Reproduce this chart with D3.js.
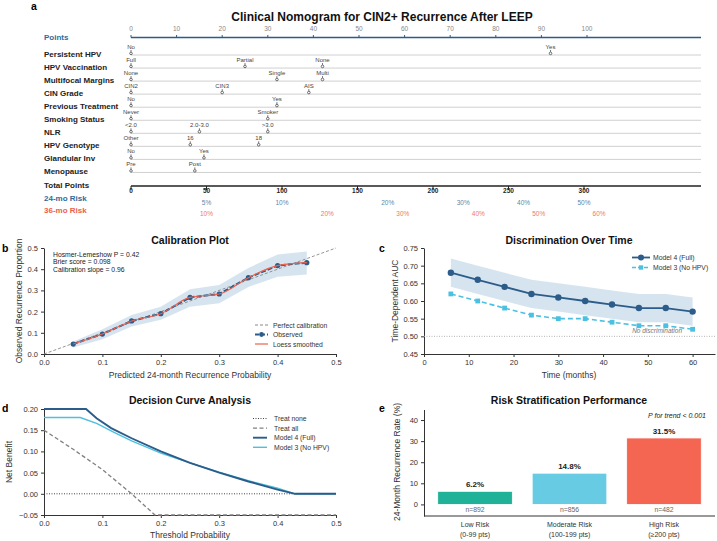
<!doctype html>
<meta charset="utf-8">
<title>CIN2+ nomogram</title>
<script src="https://cdn.jsdelivr.net/npm/d3@7/dist/d3.min.js"></script>
<style>
  body { margin: 0; background: #fff; }
  text { font-family: "Liberation Sans", Arial, sans-serif; }
</style>
<body>
<script>
// ---- data ----
var nomoVars = ["Persistent HPV", "HPV Vaccination", "Multifocal Margins", "CIN Grade", "Previous Treatment",
  "Smoking Status", "NLR", "HPV Genotype", "Glandular Inv", "Menopause"];
var nomoLevels = [["No", "Yes"], ["Full", "Partial", "None"], ["None", "Single", "Multi"], ["CIN2", "CIN3", "AIS"],
  ["No", "Yes"], ["Never", "Smoker"], ["<2.0", "2.0-3.0", ">3.0"], ["Other", "16", "18"], ["No", "Yes"], ["Pre", "Post"]];
var nomoPoints = [[0, 92], [0, 25, 42], [0, 32, 42], [0, 20, 39], [0, 32], [0, 30], [0, 15, 30], [0, 13, 28], [0, 16], [0, 14]];
var pointTicks = [0, 10, 20, 30, 40, 50, 60, 70, 80, 90, 100];
var totalTicks = [0, 50, 100, 150, 200, 250, 300];
var risk24Pts = [50, 100, 170, 220, 260, 300];
var risk24Lab = ["5%", "10%", "20%", "30%", "40%", "50%"];
var risk36Pts = [50, 130, 180, 230, 270, 310];
var risk36Lab = ["10%", "20%", "30%", "40%", "50%", "60%"];

var calPred = [0.05, 0.10, 0.15, 0.20, 0.25, 0.30, 0.35, 0.40, 0.45];
var calObs = [0.047, 0.094, 0.156, 0.19, 0.267, 0.283, 0.36, 0.417, 0.431];
var calLow = [0.031, 0.07, 0.13, 0.161, 0.223, 0.239, 0.316, 0.364, 0.375];
var calHigh = [0.059, 0.117, 0.184, 0.223, 0.305, 0.325, 0.406, 0.469, 0.484];

var months = [6, 12, 18, 24, 30, 36, 42, 48, 54, 60];
var auc4 = [0.68, 0.66, 0.64, 0.62, 0.61, 0.60, 0.59, 0.58, 0.58, 0.57];
var auc4Low = [0.64, 0.62, 0.60, 0.58, 0.57, 0.56, 0.55, 0.54, 0.54, 0.53];
var auc4High = [0.72, 0.70, 0.68, 0.66, 0.65, 0.64, 0.63, 0.62, 0.62, 0.61];
var auc3 = [0.62, 0.60, 0.58, 0.56, 0.55, 0.55, 0.54, 0.53, 0.53, 0.52];

var dcaAllT = [0, 0.05, 0.10, 0.15, 0.19, 0.5];
var dcaAll = [0.15, 0.105, 0.057, 0.0, -0.05, -0.05];
var dca4T = [0, 0.072, 0.09, 0.115, 0.15, 0.2, 0.25, 0.3, 0.35, 0.4, 0.43, 0.5];
var dca4 = [0.20, 0.20, 0.178, 0.155, 0.131, 0.10, 0.073, 0.05, 0.029, 0.010, 0, 0];
var dca3T = [0, 0.062, 0.09, 0.12, 0.15, 0.2, 0.25, 0.3, 0.35, 0.4, 0.43, 0.5];
var dca3 = [0.18, 0.18, 0.166, 0.145, 0.125, 0.096, 0.073, 0.051, 0.031, 0.013, 0, 0];

var riskGroups = [["Low Risk", "(0-99 pts)"], ["Moderate Risk", "(100-199 pts)"], ["High Risk", "(\u2265200 pts)"]];
var riskRates = [6.2, 14.8, 31.5];
var riskN = [892, 856, 482];

// ---- colours ----
var dark = "#2b5c8a", light = "#4cc0e0", coral = "#f0624d";
var barColors = ["#20b298", "#67cbe3", "#f46552"];

var svg = d3.select("body").append("svg").attr("width", 717).attr("height", 541);

function styleAxis(g) {
  g.selectAll("text").attr("font-size", 7.5).attr("fill", "#333");
  g.selectAll("line, path").attr("stroke", "#333");
}
function title(x, y, t) {
  svg.append("text").attr("x", x).attr("y", y).attr("text-anchor", "middle")
    .attr("font-size", 10.5).attr("font-weight", "bold").attr("fill", "#111").text(t);
}
function letter(x, y, t) {
  svg.append("text").attr("x", x).attr("y", y).attr("font-size", 10.5).attr("font-weight", "bold").text(t);
}
function ylabel(x, y, t) {
  svg.append("text").attr("transform", "translate(" + x + "," + y + ") rotate(-90)")
    .attr("text-anchor", "middle").attr("font-size", 8.5).attr("fill", "#333").text(t);
}
function xlabel(x, y, t) {
  svg.append("text").attr("x", x).attr("y", y).attr("text-anchor", "middle")
    .attr("font-size", 8.5).attr("fill", "#333").text(t);
}

// ================= a: nomogram =================
letter(31, 10, "a");
svg.append("text").attr("x", 382).attr("y", 21).attr("text-anchor", "middle")
  .attr("font-size", 12).attr("font-weight", "bold").attr("fill", "#111")
  .text("Clinical Nomogram for CIN2+ Recurrence After LEEP");

var pts = d3.scaleLinear().domain([0, 100]).range([131, 587]);
var tot = d3.scaleLinear().domain([0, 300]).range([131, 584]);
var lineEnd = 701;

// points axis
svg.append("text").attr("x", 44).attr("y", 40).attr("font-size", 8).attr("font-weight", "bold")
  .attr("fill", "#2f6b9a").text("Points");
svg.append("line").attr("x1", 131).attr("x2", lineEnd).attr("y1", 37.5).attr("y2", 37.5)
  .attr("stroke", dark).attr("stroke-width", 1.3);
svg.selectAll(".ptick").data(pointTicks).enter().append("line")
  .attr("x1", function(d) { return pts(d); }).attr("x2", function(d) { return pts(d); })
  .attr("y1", 35).attr("y2", 37.5).attr("stroke", dark);
svg.selectAll(".plab").data(pointTicks).enter().append("text")
  .attr("x", function(d) { return pts(d); }).attr("y", 31).attr("text-anchor", "middle")
  .attr("font-size", 6.5).attr("fill", "#888").text(function(d) { return d; });

// variable rows
nomoVars.forEach(function(v, i) {
  var ly = 55 + i * 13.05;
  svg.append("text").attr("x", 44).attr("y", ly + 2).attr("font-size", 8).attr("font-weight", "bold")
    .attr("fill", "#222").text(v);
  svg.append("line").attr("x1", 131).attr("x2", lineEnd).attr("y1", ly).attr("y2", ly)
    .attr("stroke", "#d0d0d0").attr("stroke-width", 1);
  nomoPoints[i].forEach(function(p, j) {
    var x = pts(p);
    svg.append("line").attr("x1", x).attr("x2", x).attr("y1", ly - 5).attr("y2", ly - 3.2)
      .attr("stroke", "#333").attr("stroke-width", 0.7);
    svg.append("circle").attr("cx", x).attr("cy", ly - 1.6).attr("r", 1.3)
      .attr("fill", "#fff").attr("stroke", "#333").attr("stroke-width", 0.7);
    svg.append("text").attr("x", x).attr("y", ly - 6).attr("text-anchor", "middle")
      .attr("font-size", 6).attr("fill", "#444").text(nomoLevels[i][j]);
  });
});

// total points
svg.append("text").attr("x", 44).attr("y", 188).attr("font-size", 8).attr("font-weight", "bold")
  .attr("fill", "#222").text("Total Points");
svg.append("line").attr("x1", 131).attr("x2", lineEnd).attr("y1", 186).attr("y2", 186)
  .attr("stroke", "#222").attr("stroke-width", 1.4);
svg.selectAll(".ttick").data(totalTicks).enter().append("line")
  .attr("x1", function(d) { return tot(d); }).attr("x2", function(d) { return tot(d); })
  .attr("y1", 186).attr("y2", 190).attr("stroke", "#222");
svg.selectAll(".tlab").data(totalTicks).enter().append("text")
  .attr("x", function(d) { return tot(d); }).attr("y", 193).attr("text-anchor", "middle")
  .attr("font-size", 6.5).attr("font-weight", "bold").attr("fill", "#222").text(function(d) { return d; });

svg.append("text").attr("x", 44).attr("y", 201).attr("font-size", 8).attr("font-weight", "bold")
  .attr("fill", "#2f6b9a").text("24-mo Risk");
svg.append("text").attr("x", 44).attr("y", 212.5).attr("font-size", 8).attr("font-weight", "bold")
  .attr("fill", "#ec5f4b").text("36-mo Risk");
svg.selectAll(".r24").data(risk24Pts).enter().append("text")
  .attr("x", function(d) { return tot(d); }).attr("y", 204.5).attr("text-anchor", "middle")
  .attr("font-size", 6.5).attr("fill", "#5c87aa").text(function(d, i) { return risk24Lab[i]; });
svg.selectAll(".r36").data(risk36Pts).enter().append("text")
  .attr("x", function(d) { return tot(d); }).attr("y", 216).attr("text-anchor", "middle")
  .attr("font-size", 6.5).attr("fill", "#f07766").text(function(d, i) { return risk36Lab[i]; });

// ================= b: calibration =================
letter(2, 252, "b");
title(190, 244, "Calibration Plot");
var bx = d3.scaleLinear().domain([0, 0.5]).range([44, 336]);
var by = d3.scaleLinear().domain([0, 0.5]).range([354, 248]);
svg.append("g").attr("transform", "translate(0,354)")
  .call(d3.axisBottom(bx).tickValues([0, 0.1, 0.2, 0.3, 0.4, 0.5]).tickFormat(d3.format(".1f")).tickSize(3).tickSizeOuter(0))
  .call(styleAxis);
svg.append("g").attr("transform", "translate(44,0)")
  .call(d3.axisLeft(by).tickValues([0, 0.1, 0.2, 0.3, 0.4, 0.5]).tickFormat(d3.format(".1f")).tickSize(3).tickSizeOuter(0))
  .call(styleAxis);
xlabel(190, 378, "Predicted 24-month Recurrence Probability");
ylabel(22, 301, "Observed Recurrence Proportion");

var calIdx = d3.range(calPred.length);
svg.append("path").datum(calIdx)
  .attr("d", d3.area().x(function(i) { return bx(calPred[i]); })
    .y0(function(i) { return by(calLow[i]); }).y1(function(i) { return by(calHigh[i]); }))
  .attr("fill", "#4682b4").attr("opacity", 0.22);
svg.append("line").attr("x1", bx(0)).attr("y1", by(0)).attr("x2", bx(0.5)).attr("y2", by(0.5))
  .attr("stroke", "#888").attr("stroke-width", 0.9).attr("stroke-dasharray", "3,2");
svg.append("path").datum(calIdx)
  .attr("d", d3.line().x(function(i) { return bx(calPred[i]); }).y(function(i) { return by(calObs[i]); }))
  .attr("fill", "none").attr("stroke", dark).attr("stroke-width", 2).attr("stroke-dasharray", "5,2");
svg.selectAll(".calpt").data(calIdx).enter().append("circle")
  .attr("cx", function(i) { return bx(calPred[i]); }).attr("cy", function(i) { return by(calObs[i]); })
  .attr("r", 2.6).attr("fill", dark);
svg.append("path").datum(calIdx)
  .attr("d", d3.line().curve(d3.curveMonotoneX).x(function(i) { return bx(calPred[i]); }).y(function(i) { return by(calObs[i]); }))
  .attr("fill", "none").attr("stroke", coral).attr("stroke-width", 1.1);

["Hosmer-Lemeshow P = 0.42", "Brier score = 0.098", "Calibration slope = 0.96"].forEach(function(t, i) {
  svg.append("text").attr("x", 53).attr("y", 256.5 + i * 7.6).attr("font-size", 6.8).attr("fill", "#222").text(t);
});
// legend b
var bl = svg.append("g");
bl.append("line").attr("x1", 255).attr("x2", 268).attr("y1", 325).attr("y2", 325)
  .attr("stroke", "#888").attr("stroke-dasharray", "3,2");
bl.append("line").attr("x1", 255).attr("x2", 268).attr("y1", 334.5).attr("y2", 334.5)
  .attr("stroke", dark).attr("stroke-width", 2).attr("stroke-dasharray", "4,2");
bl.append("circle").attr("cx", 261.5).attr("cy", 334.5).attr("r", 2.4).attr("fill", dark);
bl.append("line").attr("x1", 255).attr("x2", 268).attr("y1", 344).attr("y2", 344)
  .attr("stroke", coral).attr("stroke-width", 1.2);
["Perfect calibration", "Observed", "Loess smoothed"].forEach(function(t, i) {
  bl.append("text").attr("x", 273).attr("y", 327.5 + i * 9.5).attr("font-size", 6.8).attr("fill", "#333").text(t);
});

// ================= c: discrimination =================
letter(379, 252, "c");
title(569, 244, "Discrimination Over Time");
var cx = d3.scaleLinear().domain([0, 65]).range([424, 715]);
var cy = d3.scaleLinear().domain([0.45, 0.75]).range([354, 248]);
svg.append("g").attr("transform", "translate(0,354)")
  .call(d3.axisBottom(cx).tickValues([0, 10, 20, 30, 40, 50, 60]).tickSize(3).tickSizeOuter(0))
  .call(styleAxis);
svg.append("g").attr("transform", "translate(424,0)")
  .call(d3.axisLeft(cy).tickValues([0.45, 0.5, 0.55, 0.6, 0.65, 0.7, 0.75]).tickFormat(d3.format(".2f")).tickSize(3).tickSizeOuter(0))
  .call(styleAxis);
xlabel(569, 378, "Time (months)");
ylabel(398, 301, "Time-Dependent AUC");

var mIdx = d3.range(months.length);
svg.append("path").datum(mIdx)
  .attr("d", d3.area().x(function(i) { return cx(months[i]); })
    .y0(function(i) { return cy(auc4Low[i]); }).y1(function(i) { return cy(auc4High[i]); }))
  .attr("fill", "#4682b4").attr("opacity", 0.22);
svg.append("line").attr("x1", 424).attr("x2", 715).attr("y1", cy(0.5)).attr("y2", cy(0.5))
  .attr("stroke", "#aaa").attr("stroke-width", 0.9).attr("stroke-dasharray", "1,1.5");
svg.append("text").attr("x", 682).attr("y", 333).attr("text-anchor", "end").attr("font-size", 6.5)
  .attr("font-style", "italic").attr("fill", "#777").text("No discrimination");
svg.append("path").datum(mIdx)
  .attr("d", d3.line().x(function(i) { return cx(months[i]); }).y(function(i) { return cy(auc3[i]); }))
  .attr("fill", "none").attr("stroke", light).attr("stroke-width", 1.6).attr("stroke-dasharray", "5,3");
svg.selectAll(".m3").data(mIdx).enter().append("rect")
  .attr("x", function(i) { return cx(months[i]) - 2.4; }).attr("y", function(i) { return cy(auc3[i]) - 2.4; })
  .attr("width", 4.8).attr("height", 4.8).attr("fill", light);
svg.append("path").datum(mIdx)
  .attr("d", d3.line().x(function(i) { return cx(months[i]); }).y(function(i) { return cy(auc4[i]); }))
  .attr("fill", "none").attr("stroke", dark).attr("stroke-width", 1.8);
svg.selectAll(".m4").data(mIdx).enter().append("circle")
  .attr("cx", function(i) { return cx(months[i]); }).attr("cy", function(i) { return cy(auc4[i]); })
  .attr("r", 3.2).attr("fill", dark);
// legend c
svg.append("line").attr("x1", 632).attr("x2", 650).attr("y1", 257.5).attr("y2", 257.5).attr("stroke", dark).attr("stroke-width", 1.8);
svg.append("circle").attr("cx", 641).attr("cy", 257.5).attr("r", 3).attr("fill", dark);
svg.append("line").attr("x1", 632).attr("x2", 650).attr("y1", 267.5).attr("y2", 267.5).attr("stroke", light).attr("stroke-width", 1.6).attr("stroke-dasharray", "4,2");
svg.append("rect").attr("x", 638.8).attr("y", 265.3).attr("width", 4.4).attr("height", 4.4).attr("fill", light);
svg.append("text").attr("x", 653).attr("y", 260).attr("font-size", 6.8).attr("fill", "#333").text("Model 4 (Full)");
svg.append("text").attr("x", 653).attr("y", 270).attr("font-size", 6.8).attr("fill", "#333").text("Model 3 (No HPV)");

// ================= d: decision curve =================
letter(2, 412, "d");
title(190, 404, "Decision Curve Analysis");
var dx = d3.scaleLinear().domain([0, 0.5]).range([44, 336]);
var dy = d3.scaleLinear().domain([-0.05, 0.20]).range([515, 409]);
svg.append("g").attr("transform", "translate(0,515)")
  .call(d3.axisBottom(dx).tickValues([0, 0.1, 0.2, 0.3, 0.4, 0.5]).tickFormat(d3.format(".1f")).tickSize(3).tickSizeOuter(0))
  .call(styleAxis);
svg.append("g").attr("transform", "translate(44,0)")
  .call(d3.axisLeft(dy).tickValues([-0.05, 0, 0.05, 0.10, 0.15, 0.20]).tickFormat(d3.format(".2f")).tickSize(3).tickSizeOuter(0))
  .call(styleAxis);
xlabel(190, 538, "Threshold Probability");
ylabel(12, 462, "Net Benefit");

svg.append("line").attr("x1", dx(0)).attr("x2", dx(0.5)).attr("y1", dy(0)).attr("y2", dy(0))
  .attr("stroke", "#444").attr("stroke-width", 1).attr("stroke-dasharray", "1,1.5");
function dline(ts, vs, color, w, dash) {
  var p = svg.append("path").datum(d3.range(ts.length))
    .attr("d", d3.line().x(function(i) { return dx(ts[i]); }).y(function(i) { return dy(vs[i]); }))
    .attr("fill", "none").attr("stroke", color).attr("stroke-width", w);
  if (dash) p.attr("stroke-dasharray", dash);
}
dline(dcaAllT, dcaAll, "#808080", 1.3, "4,2.5");
dline(dca3T, dca3, light, 1.4);
dline(dca4T, dca4, dark, 1.9);
// legend d
var dl = [["Treat none", "#444", 1, "1,1.5"], ["Treat all", "#808080", 1.3, "4,2.5"],
  ["Model 4 (Full)", dark, 1.9, null], ["Model 3 (No HPV)", light, 1.4, null]];
dl.forEach(function(e, i) {
  var yy = 418.5 + i * 9.6;
  var l = svg.append("line").attr("x1", 253).attr("x2", 267).attr("y1", yy).attr("y2", yy)
    .attr("stroke", e[1]).attr("stroke-width", e[2]);
  if (e[3]) l.attr("stroke-dasharray", e[3]);
  svg.append("text").attr("x", 274).attr("y", yy + 2.5).attr("font-size", 6.8).attr("fill", "#333").text(e[0]);
});

// ================= e: risk stratification =================
letter(379, 412, "e");
title(569, 404, "Risk Stratification Performance");
var ex = d3.scaleLinear().domain([-0.54, 2.54]).range([424, 715]);
var ey = d3.scaleLinear().domain([-5.5, 45]).range([516, 409.5]);
svg.append("g").attr("transform", "translate(424,0)")
  .call(d3.axisLeft(ey).tickValues([0, 10, 20, 30, 40]).tickSize(3).tickSizeOuter(0))
  .call(styleAxis);
svg.append("line").attr("x1", 424).attr("x2", 715).attr("y1", 516).attr("y2", 516).attr("stroke", "#333");
ylabel(400, 462, "24-Month Recurrence Rate (%)");
svg.append("text").attr("x", 706).attr("y", 417.5).attr("text-anchor", "end").attr("font-size", 7)
  .attr("font-style", "italic").attr("fill", "#222").text("P for trend < 0.001");

var bw = 0.79;
svg.selectAll(".bar").data(riskRates).enter().append("rect")
  .attr("x", function(d, i) { return ex(i - bw / 2); })
  .attr("width", ex(bw) - ex(0))
  .attr("y", function(d) { return ey(d); })
  .attr("height", function(d) { return ey(0) - ey(d); })
  .attr("fill", function(d, i) { return barColors[i]; })
  .attr("stroke", "#fff").attr("stroke-width", 0.8);
svg.selectAll(".barlab").data(riskRates).enter().append("text")
  .attr("x", function(d, i) { return ex(i); }).attr("y", function(d) { return ey(d) - 4; })
  .attr("text-anchor", "middle").attr("font-size", 8).attr("font-weight", "bold").attr("fill", "#222")
  .text(function(d) { return d.toFixed(1) + "%"; });
svg.selectAll(".nlab").data(riskN).enter().append("text")
  .attr("x", function(d, i) { return ex(i); }).attr("y", 511.5)
  .attr("text-anchor", "middle").attr("font-size", 6.8).attr("fill", "#666")
  .text(function(d) { return "n=" + d; });
riskGroups.forEach(function(g, i) {
  svg.append("text").attr("x", ex(i)).attr("y", 526.5).attr("text-anchor", "middle")
    .attr("font-size", 7).attr("fill", "#333").text(g[0]);
  svg.append("text").attr("x", ex(i)).attr("y", 537).attr("text-anchor", "middle")
    .attr("font-size", 7).attr("fill", "#333").text(g[1]);
});
</script>
</body>
